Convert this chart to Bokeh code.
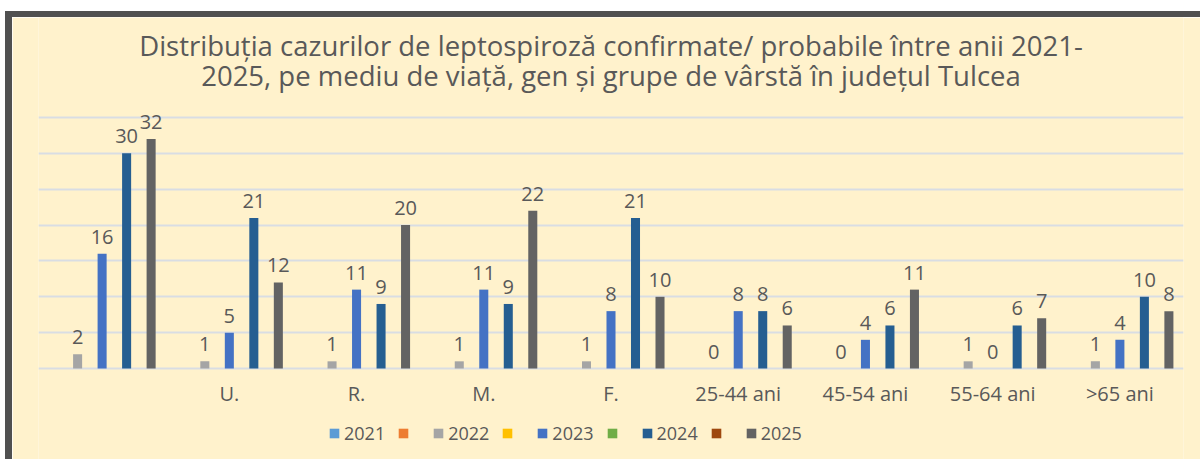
import math
from bokeh.plotting import figure
from bokeh.models import (ColumnDataSource, LabelSet, Legend, LegendItem,
                          FixedTicker, Label, Range1d)
from bokeh.core.properties import value
from bokeh.embed import file_html
from bokeh.resources import INLINE

categories = ["", "U.", "R.", "M.", "F.", "25-44 ani", "45-54 ani", "55-64 ani", ">65 ani"]
series_names = ["2021", "\u200b", "2022", "\u200b", "2023", "\u200b", "2024", "\u200b", "2025"]
series_colors = ["#5B9BD5", "#ED7D31", "#A5A5A5", "#FFC000", "#4472C4",
                 "#70AD47", "#255E91", "#9E480E", "#636363"]
blank = [None] * 9                      # series without any value in the source table
values_2021 = [None] * 9
values_2022 = [2, 1, 1, 1, 1, 0, 0, 1, 1]
values_2023 = [16, 5, 11, 11, 8, 8, 4, 0, 4]
values_2024 = [30, 21, 9, 9, 21, 8, 6, 6, 10]
values_2025 = [32, 12, 20, 22, 10, 6, 11, 7, 8]
grid_ticks = [0, 5, 10, 15, 20, 25, 30, 35]
title_line1 = "Distribuția cazurilor de leptospiroză confirmate/ probabile între anii 2021-"
title_line2 = "2025, pe mediu de viață, gen și grupe de vârstă în județul Tulcea"

series_values = [values_2021, blank, values_2022, blank, values_2023, blank,
                 values_2024, blank, values_2025]

TXT = "#595959"
FONT = "Open Sans"
n = len(categories)
slot = 0.0963
bar_w = 0.071

# layout (pixels inside the canvas)
W, H = 1195, 448
ZERO_Y = 351                # canvas y of value 0
PX_PER_UNIT = 251 / 35      # gridline spacing in pixels per unit
FRAME_RIGHT = 1171


def at_canvas_y(py):
    return (ZERO_Y - py) / PX_PER_UNIT


p = figure(width=W, height=H, x_range=Range1d(0, n),
           y_range=Range1d(at_canvas_y(H), at_canvas_y(0)),
           min_border_left=26, min_border_right=W - FRAME_RIGHT,
           min_border_top=0, min_border_bottom=0,
           background_fill_color="#FFF2CC", border_fill_color="#FFF2CC",
           outline_line_color=None, toolbar_location=None, output_backend="svg",
           title=None)
p.styles = {"margin-left": "5px", "margin-top": "11px",
            "border-top": "6px solid #505050", "border-left": "7px solid #505050"}
p.xaxis.visible = False
p.yaxis.visible = False
p.xgrid.visible = False
p.ygrid.ticker = FixedTicker(ticks=grid_ticks)
p.ygrid.grid_line_color = "#D9DDE3"
p.ygrid.grid_line_width = 2

items = []
for k, (name, col, vals) in enumerate(zip(series_names, series_colors, series_values)):
    off = (k - 4) * slot
    xs = [i + 0.5 + off for i in range(n)]
    tops = [math.nan if v is None else v for v in vals]
    src = ColumnDataSource(dict(x=xs, top=tops))
    r = p.vbar(x="x", top="top", width=bar_w, source=src, fill_color=col, line_color=None)
    items.append(LegendItem(label=name, renderers=[r]))
    known = [(x, v) for x, v in zip(xs, vals) if v is not None]
    if known:
        lsrc = ColumnDataSource(dict(x=[a for a, _ in known], top=[b for _, b in known],
                                     lab=[str(b) for _, b in known]))
        p.add_layout(LabelSet(x="x", y="top", text="lab", source=lsrc, text_align="center",
                              text_baseline="bottom", y_offset=10, text_font=value(FONT),
                              text_font_size="20px", text_color=TXT))

# category labels under the bars
p.text(x=[i + 0.5 for i in range(n)], y=[at_canvas_y(376)] * n, text=categories,
       text_align="center", text_baseline="middle", text_font=value(FONT),
       text_font_size="20px", text_color=TXT)

legend = Legend(items=items, orientation="horizontal", location=(290, H - 428),
                glyph_width=12, glyph_height=12, label_standoff=4, spacing=12,
                label_width=7, padding=0, margin=0, border_line_color=None,
                background_fill_alpha=0, label_text_font=FONT,
                label_text_font_size="18px", label_text_color=TXT)
p.add_layout(legend, "center")

for txt, py in ((title_line1, 28), (title_line2, 58)):
    p.add_layout(Label(x=n / 2, y=at_canvas_y(py), text=txt,
                       text_align="center", text_baseline="middle", text_font=FONT,
                       text_font_size="27.5px", text_color=TXT))

open("out.html", "w").write(file_html(p, INLINE))
